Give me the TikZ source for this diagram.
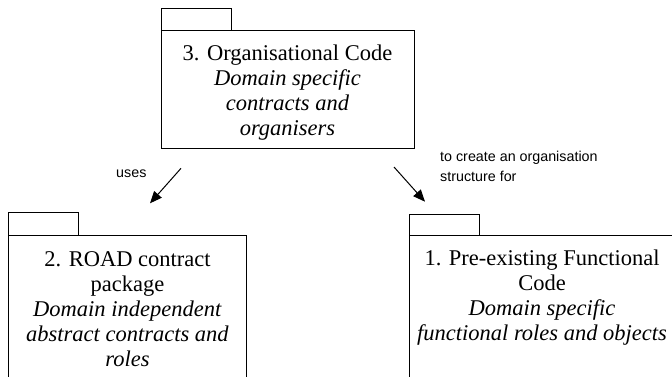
\documentclass[tikz,border=0pt]{standalone}
\usepackage{fontspec}
\setmainfont{Liberation Serif}
\setsansfont{Liberation Sans}
\usetikzlibrary{arrows.meta}
\begin{document}
\begin{tikzpicture}[x=1pt,y=-1pt,
  pkg/.style={draw, line width=1pt, inner sep=0pt, outer sep=0pt},
  boxtext/.style={anchor=north, inner sep=0pt, align=center, font=\fontsize{22.5}{25}\selectfont},
  lbl/.style={anchor=base west, inner sep=0pt, align=left, font=\sffamily\fontsize{14.3}{20}\selectfont},
  dep/.style={line width=1pt, -{Triangle[length=12pt,width=10pt]}}]
\useasboundingbox (0,0) rectangle (672,376);
\clip (0,0) rectangle (672,376);
% package 3
\node[pkg, minimum width=253pt, minimum height=118pt, anchor=north west] (b3) at (161,30) {};
\node[pkg, minimum width=70pt, minimum height=22pt, anchor=south west] (t3) at (b3.north west) {};
\node[boxtext] (x3) at (287.5,42.5) {\strut 3. Organisational Code\\ \textit{Domain specific}\\ \textit{contracts and}\\ \textit{organisers}};
% package 2
\node[pkg, minimum width=238pt, minimum height=200pt, anchor=north west] (b2) at (8.5,235) {};
\node[pkg, minimum width=70pt, minimum height=22.5pt, anchor=south west] (t2) at (b2.north west) {};
\node[boxtext] (x2) at (127.5,248.5) {\strut 2. ROAD contract\\ package\\ \textit{Domain independent}\\ \textit{abstract contracts and}\\ \textit{roles}};
% package 1
\node[pkg, minimum width=300pt, minimum height=200pt, anchor=north west] (b1) at (409,235) {};
\node[pkg, minimum width=70pt, minimum height=21pt, anchor=south west] (t1) at (b1.north west) {};
\node[boxtext] (x1) at (542,248) {\strut 1. Pre-existing Functional\\ Code\\ \textit{Domain specific}\\ \textit{functional roles and objects}};
% arrows
\coordinate (a1) at (181,168.3);
\coordinate (a2) at (150,203.3);
\coordinate (c1) at (394,167);
\coordinate (c2) at (425,201.7);
\draw[dep] (a1) -- (a2);
\draw[dep] (c1) -- (c2);
\node[lbl] (l1) at (116,177.7) {uses};
\node[lbl] (l2) at (440,181.7) {to create an organisation\\ structure for};
\end{tikzpicture}
\end{document}
